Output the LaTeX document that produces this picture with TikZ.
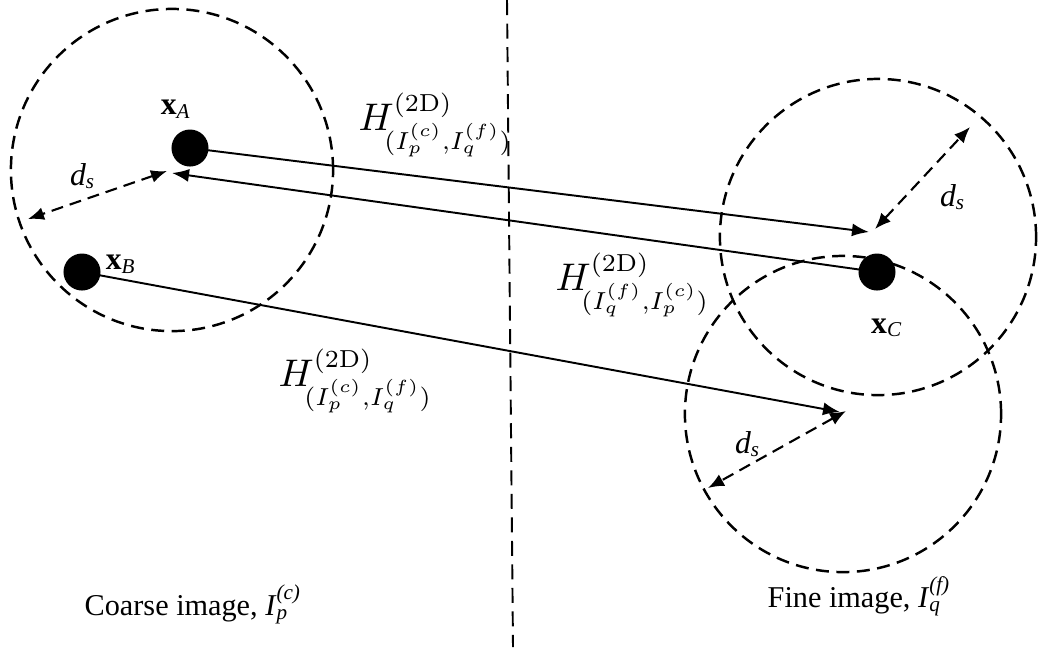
\documentclass[tikz,border=0pt]{standalone}
\usepackage{amsmath}
\usepackage[no-math]{fontspec}
\setmainfont{Liberation Serif}
\usetikzlibrary{arrows.meta}
\begin{document}
\begin{tikzpicture}[x=0.01cm,y=-0.01cm,
  dashcirc/.style={draw, line width=0.7pt, dash pattern=on 0.13cm off 0.075cm},
  divline/.style={draw, line width=0.55pt, dash pattern=on 0.15cm off 0.085cm},
  dot/.style={circle, fill=black, inner sep=0pt, minimum size=0.37cm},
  harrow/.style={line width=0.55pt, -{Latex[length=0.17cm,width=0.13cm]}},
  dsarrow/.style={line width=0.6pt, dash pattern=on 0.12cm off 0.07cm,
    {Latex[length=0.16cm,width=0.13cm]}-{Latex[length=0.16cm,width=0.13cm]}},
  ptlabel/.style={inner sep=0pt, font=\fontsize{9}{10}\selectfont},
  hlabel/.style={inner sep=0pt, font=\fontsize{10.5}{12}\selectfont},
  caption/.style={inner sep=0pt, font=\fontsize{8.6}{10}\selectfont}]
\useasboundingbox (0,0) rectangle (1039,647);
% dividing line
\coordinate (vtop) at (507,0);
\coordinate (vbot) at (513,647);
\draw[divline] (vtop) -- (vbot);
% circles
\draw[dashcirc] (172,170) circle[radius=1.61cm];
\draw[dashcirc] (878,237) circle[radius=1.58cm];
\draw[dashcirc] (843,414) circle[radius=1.58cm];
% points
\node[dot] (A) at (190,148) {};
\node[dot] (B) at (82,272) {};
\node[dot] (C) at (877,272) {};
\node[ptlabel] (lA) at (176,109) {\textbf{x}$_{\textit{A}}$};
\node[ptlabel] (lB) at (121,264) {\textbf{x}$_{\textit{B}}$};
\node[ptlabel] (lC) at (887,328) {\textbf{x}$_{\textit{C}}$};
% arrow end points
\coordinate (tA) at (172,173);
\coordinate (tC1) at (869,232);
\coordinate (tC2) at (840,412);
% homography arrows
\draw[harrow] (A.center) -- (tC1);
\draw[harrow] (C.center) -- (tA);
\draw[harrow] (B.center) -- (tC2);
% d_s arrows
\coordinate (dA1) at (167,171);
\coordinate (dA2) at (28,219);
\coordinate (dC1) at (875,229);
\coordinate (dC2) at (970,127);
\coordinate (dD1) at (846,411);
\coordinate (dD2) at (708,488);
\draw[dsarrow] (dA1) -- (dA2);
\draw[dsarrow] (dC1) -- (dC2);
\draw[dsarrow] (dD1) -- (dD2);
\node[ptlabel] (ds1) at (83,176) {\textit{d}$_{\textit{s}}$};
\node[ptlabel] (ds2) at (953,197) {\textit{d}$_{\textit{s}}$};
\node[ptlabel] (ds3) at (748,444) {\textit{d}$_{\textit{s}}$};
% homography labels
\node[hlabel, anchor=west] (h1) at (358,125) {$H^{(\mathrm{2D})}_{\mkern-4mu(I_p^{(c)},I_q^{(f)})}$};
\node[hlabel, anchor=west] (h2) at (555,285) {$H^{(\mathrm{2D})}_{\mkern-4mu(I_q^{(f)},I_p^{(c)})}$};
\node[hlabel, anchor=west] (h3) at (278,381) {$H^{(\mathrm{2D})}_{\mkern-4mu(I_p^{(c)},I_q^{(f)})}$};
% captions
\node[caption, anchor=base west] (cap1) at (84,615) {Coarse image, \textit{I}$_{\textit{p}}^{\textit{(c)}}$};
\node[caption, anchor=base west] (cap2) at (767,607) {Fine image, \textit{I}$_{\textit{q}}^{\textit{(f)}}$};
\end{tikzpicture}
\end{document}
